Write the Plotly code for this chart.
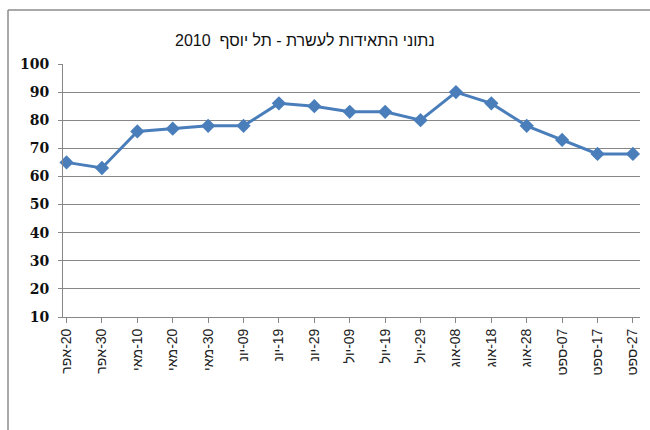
import plotly.graph_objects as go

title_text = "נתוני התאידות לעשרת - תל יוסף  2010"
categories = ["20-אפר", "30-אפר", "10-מאי", "20-מאי", "30-מאי", "09-יונ", "19-יונ",
              "29-יונ", "09-יול", "19-יול", "29-יול", "08-אוג", "18-אוג", "28-אוג",
              "07-ספט", "17-ספט", "27-ספט"]
values = [65, 63, 76, 77, 78, 78, 86, 85, 83, 83, 80, 90, 86, 78, 73, 68, 68]
y_ticks = [10, 20, 30, 40, 50, 60, 70, 80, 90, 100]

W, H = 650, 430
L, R, T, B = 63, 640, 64, 317
pw, ph = R - L, B - T

def px_x(p):
    return (p - L) / pw

def px_y(p):
    return (B - p) / ph

xs = list(range(len(categories)))
ticktext = ["\u202B" + c + "\u202C" for c in categories]

fig = go.Figure()
fig.add_trace(go.Scatter(
    x=xs, y=values, mode="lines+markers",
    line=dict(color="#4A7EBB", width=3),
    marker=dict(symbol="diamond", size=11, color="#4A7EBB"),
    showlegend=False, cliponaxis=False,
))

border = dict(color="#8c8c8c", width=1.5)
fig.update_layout(
    width=W, height=H,
    margin=dict(l=L, r=W - R, t=T, b=H - B),
    paper_bgcolor="white", plot_bgcolor="white",
    xaxis=dict(
        range=[-0.1, 16.2], tickmode="array", tickvals=xs, ticktext=ticktext,
        tickangle=-90, showgrid=False, showline=True, linecolor="#878787", linewidth=1,
        ticks="outside", ticklen=5, tickcolor="#878787",
        tickfont=dict(family="Liberation Sans, Arial", size=14, color="#222"),
        zeroline=False, fixedrange=True,
    ),
    yaxis=dict(
        range=[10, 100], tickmode="array", tickvals=y_ticks,
        showgrid=True, gridcolor="#878787", gridwidth=1,
        showline=True, linecolor="#878787", linewidth=1,
        ticks="outside", ticklen=4, tickcolor="#878787",
        ticklabelstandoff=6,
        tickfont=dict(family="DejaVu Serif", size=14, color="#111", weight="bold"),
        zeroline=False, fixedrange=True,
    ),
    shapes=[
        dict(type="line", xref="paper", yref="paper",
             x0=px_x(8), x1=px_x(650), y0=px_y(10), y1=px_y(10), line=border, layer="below"),
        dict(type="line", xref="paper", yref="paper",
             x0=px_x(8), x1=px_x(8), y0=px_y(10), y1=px_y(430), line=border, layer="below"),
    ],
    annotations=[dict(
        text=title_text, xref="paper", yref="paper",
        x=px_x(305), y=px_y(40), xanchor="center", yanchor="middle",
        showarrow=False,
        font=dict(family="Liberation Sans, Arial", size=16, color="#111"),
    )],
)

fig.write_html("out.html")
